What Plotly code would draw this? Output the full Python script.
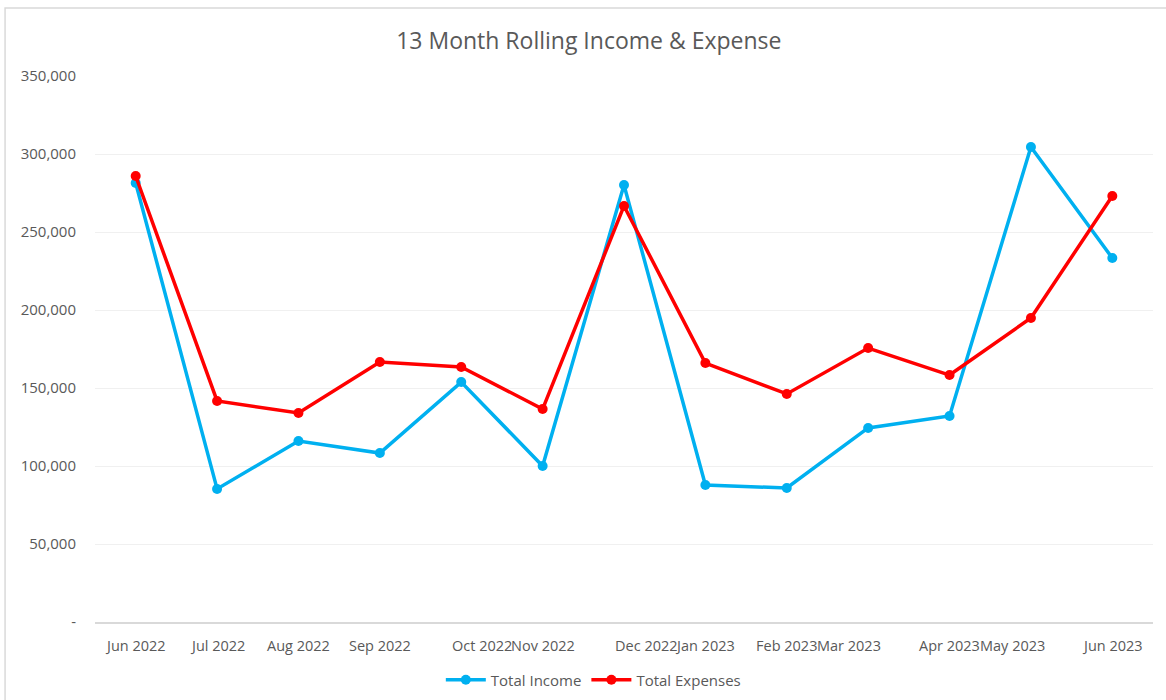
import plotly.graph_objects as go

months = ["Jun 2022", "Jul 2022", "Aug 2022", "Sep 2022", "Oct 2022", "Nov 2022",
          "Dec 2022", "Jan 2023", "Feb 2023", "Mar 2023", "Apr 2023", "May 2023", "Jun 2023"]
total_income = [281400, 85300, 116000, 108300, 153800, 100000, 280100,
                87800, 85900, 124400, 132100, 304500, 233300]
total_expenses = [285900, 141700, 134000, 166700, 163500, 136500, 266700,
                  166000, 146200, 175600, 158300, 194900, 273100]
y_ticks = [0, 50000, 100000, 150000, 200000, 250000, 300000, 350000]
y_tick_text = ["-", "50,000", "100,000", "150,000", "200,000", "250,000", "300,000", "350,000"]

# label nudges that mimic the reference's crowded tick labels (layout only)
label_shift = [0, 0, 0, 0, 0.26, 0, 0.28, 0, 0, -0.23, 0, -0.23, 0]

idx = list(range(len(months)))
font_family = "Open Sans, Noto Sans, sans-serif"
grey = "#595959"

fig = go.Figure()
fig.add_trace(go.Scatter(x=idx, y=total_income, name="Total Income", mode="lines+markers",
                         line=dict(color="#00B0F0", width=3.5), marker=dict(size=10, color="#00B0F0"),
                         customdata=months, hovertemplate="%{customdata}: %{y:,}<extra>Total Income</extra>"))
fig.add_trace(go.Scatter(x=idx, y=total_expenses, name="Total Expenses", mode="lines+markers",
                         line=dict(color="#FF0000", width=3.5), marker=dict(size=10, color="#FF0000"),
                         customdata=months, hovertemplate="%{customdata}: %{y:,}<extra>Total Expenses</extra>"))

fig.update_layout(
    width=1166, height=700,
    paper_bgcolor="white", plot_bgcolor="white",
    margin=dict(l=95, r=13, t=76, b=78, autoexpand=False),
    font=dict(family=font_family, color=grey, size=15),
    title=dict(text="13 Month Rolling Income & Expense", x=0.505, xanchor="center",
               y=1 - 41 / 700, yanchor="middle", font=dict(size=23, color=grey)),
    legend=dict(orientation="h", x=0.471, xanchor="center", y=-(680 - 622) / 546, yanchor="middle",
                font=dict(size=15, color=grey), itemwidth=40, tracegroupgap=0),
    showlegend=True,
)
fig.update_xaxes(range=[-0.5, len(months) - 0.5], showticklabels=False, automargin=False,
                 showgrid=False, zeroline=False, showline=True, linecolor="#d9d9d9", linewidth=1.5,
                 ticks="")
fig.update_yaxes(range=[0, 350000], tickmode="array", tickvals=y_ticks, ticktext=y_tick_text,
                 showgrid=True, gridcolor="#f0f0f0", gridwidth=1, zeroline=False, showline=False,
                 ticks="", automargin=False, ticklabelstandoff=18, tickfont=dict(size=15, color=grey))

# x category labels as annotations (positions from the category index)
for i, (m, s) in enumerate(zip(months, label_shift)):
    fig.add_annotation(x=i + s, y=0, xref="x", yref="y", text=m, showarrow=False,
                       yanchor="middle", xanchor="center", yshift=-23,
                       font=dict(size=14.5, color=grey))

# outer chart border
fig.add_shape(type="rect", xref="paper", yref="paper", x0=-0.0850, x1=1.2, y0=-0.3, y1=1.1245,
              line=dict(color="#d9d9d9", width=1.5), fillcolor="rgba(0,0,0,0)", layer="below")

fig.write_html("out.html", config={"displayModeBar": False},
               post_script="document.body.style.margin='0';")
